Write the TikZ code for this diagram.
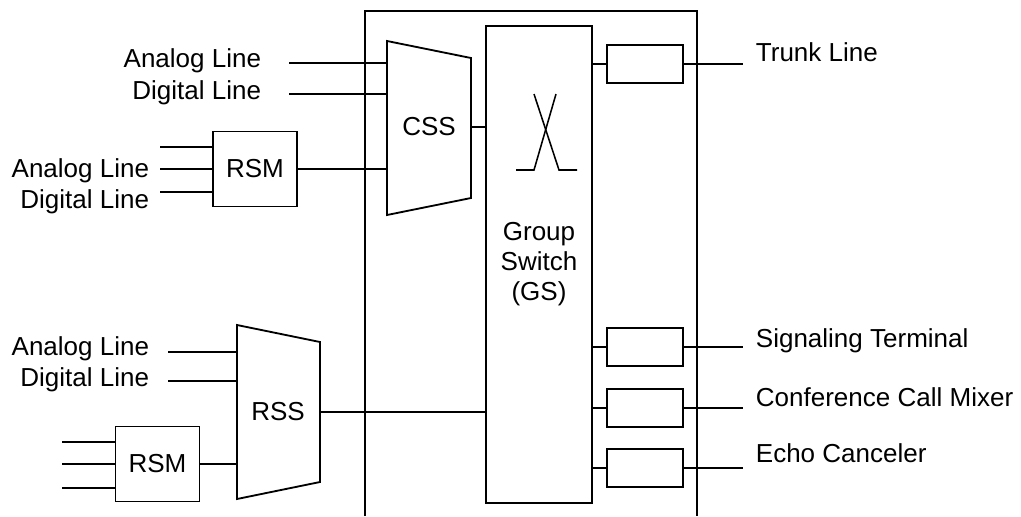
\documentclass[tikz,border=0pt]{standalone}
\usepackage{fontspec}
\setmainfont{Liberation Sans}

\begin{document}
\begin{tikzpicture}[x=0.025cm, y=-0.025cm, line width=1.3pt,
    every node/.style={font=\fontsize{18.5}{21.3}\selectfont, inner sep=0pt},
    unitbox/.style={draw, minimum width=1.9cm, minimum height=0.95cm},
    modbox/.style={draw, minimum width=2.1cm, minimum height=1.875cm}]

\useasboundingbox (0,0) rectangle (1021,516);

% exchange frame (open at the bottom)
\draw (365,516) -- (365,11) -- (697,11) -- (697,516);

% group switch
\node [draw, minimum width=2.65cm, minimum height=11.925cm, align=center] (gs) at (539,264.5) {Group\\Switch\\(GS)};
\draw [line width=1.1pt] (516,170) -- (534,170) -- (556,94);
\draw [line width=1.1pt] (534,94) -- (559,170) -- (577,170);

% CSS
\draw (387,41) coordinate (css-in) -- (471,58) -- (471,198) -- (387,215) -- cycle;
\node (css) at (429,127) {CSS};
\coordinate (css-out) at (471,127);
\draw (css-out) -- (css-out -| gs.west);
\foreach \n/\y/\b/\t in {a/63/67/Analog Line, d/94/99/Digital Line}{
    \coordinate (css-\n) at (289,\y);
    \draw (css-\n) -- (css-\n -| css-in);
    \node [anchor=base east] (css-\n-lbl) at (262,\b) {\t};
}

% RSM on the CSS
\node [modbox] (rsm1) at (255,169) {RSM};
\draw (rsm1.east) -- (rsm1.east -| css-in);
\foreach \y in {147,169,192}{
    \coordinate (rsm1-\y) at (160,\y);
    \draw (rsm1-\y) -- (rsm1-\y -| rsm1.west);
}
\node [anchor=base east] (rsm1-a-lbl) at (150,177) {Analog Line};
\node [anchor=base east] (rsm1-d-lbl) at (150,208) {Digital Line};

% RSS
\draw (237,325) coordinate (rss-in) -- (320,342) -- (320,482) -- (237,499) -- cycle;
\node (rss) at (278,412) {RSS};
\coordinate (rss-out) at (320,412);
\draw (rss-out) -- (rss-out -| gs.west);
\foreach \n/\y/\b/\t in {a/352/355/Analog Line, d/381/386/Digital Line}{
    \coordinate (rss-\n) at (168,\y);
    \draw (rss-\n) -- (rss-\n -| rss-in);
    \node [anchor=base east] (rss-\n-lbl) at (150,\b) {\t};
}

% RSM on the RSS
\node [modbox] (rsm2) at (157.5,464) {RSM};
\draw (rsm2.east) -- (rsm2.east -| rss-in);
\foreach \y in {442,464,488}{
    \coordinate (rsm2-\y) at (62,\y);
    \draw (rsm2-\y) -- (rsm2-\y -| rsm2.west);
}

% units on the group switch
\foreach \n/\y/\b/\t in {tr/64/61/Trunk Line, st/347/347/Signaling Terminal, cm/408/406/Conference Call Mixer, ec/468/462/Echo Canceler}{
    \node [unitbox] (\n) at (645,\y) {};
    \draw (\n.west) -- (\n.west -| gs.east);
    \coordinate (\n-end) at (743,\y);
    \draw (\n.east) -- (\n-end);
    \node [anchor=base west] (\n-lbl) at (755,\b) {\t};
}

\end{tikzpicture}
\end{document}
